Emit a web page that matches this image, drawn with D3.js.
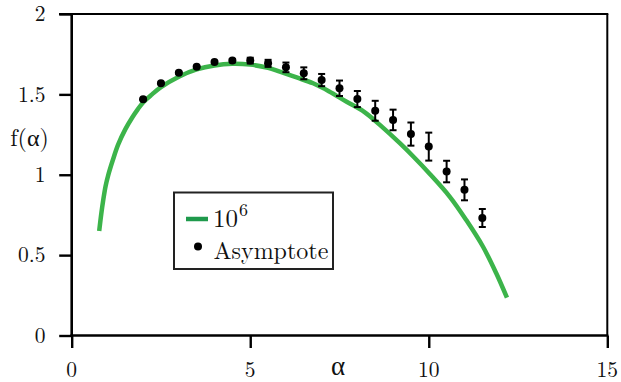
<!DOCTYPE html>
<html><head><meta charset="utf-8">
<script src="https://cdn.jsdelivr.net/npm/d3@7"></script>
<style>body{margin:0;background:#fff}svg{display:block}</style>
</head><body><div id="chart"></div>
<script>
// Curve data (10^6)
const curveAlpha = [0.77,0.83,0.885,0.95,1.02,1.15,1.3,1.5,1.7,1.85,2.0,2.25,2.5,3.0,3.5,4.0,4.5,5.0,5.5,5.83,6.3,6.76,7.2,7.7,8.2,8.63,9.19,9.56,10.03,10.59,11.05,11.52,11.89,12.19];
const curveF     = [0.65,0.76,0.845,0.93,0.995,1.09,1.187,1.282,1.358,1.407,1.45,1.50,1.545,1.61,1.655,1.68,1.69,1.685,1.665,1.641,1.605,1.569,1.52,1.454,1.39,1.31,1.196,1.115,1.005,0.863,0.718,0.552,0.387,0.235];
// Asymptote points with error bars
const asymAlpha = [2.0,2.5,3.0,3.5,4.0,4.5,5.0,5.5,6.0,6.5,7.0,7.5,8.0,8.5,9.0,9.5,10.0,10.5,11.0,11.5];
const asymF     = [1.469,1.569,1.635,1.672,1.701,1.71,1.71,1.693,1.668,1.631,1.589,1.538,1.471,1.398,1.341,1.253,1.175,1.02,0.906,0.731];
const asymErr   = [0.004,0.004,0.005,0.005,0.006,0.01,0.018,0.022,0.03,0.037,0.038,0.048,0.05,0.062,0.064,0.072,0.087,0.067,0.065,0.056];
// Ticks
const xTicks = [0,5,10,15];
const xTickLabels = ["0","5","10","15"];
const yTicks = [0,0.5,1,1.5,2];
const yTickLabels = ["0","0.5","1","1.5","2"];
const legendLabels = ["10","Asymptote"];

const FONT = "'Latin Modern Roman'";
const W = 621, H = 382;
const svg = d3.select("#chart").append("svg").attr("width",W).attr("height",H);
const x = d3.scaleLinear().domain([0,15]).range([71.7,607.3]);
const y = d3.scaleLinear().domain([0,2]).range([335.5,14]);
const txt = (sel)=>sel.append("text").style("font-family",FONT).attr("fill","#111");

// frame (top/right)
svg.append("line").attr("x1",59).attr("x2",x(15)+1).attr("y1",y(2)).attr("y2",y(2)).attr("stroke","#000").attr("stroke-width",2);
svg.append("line").attr("x1",x(15)).attr("x2",x(15)).attr("y1",y(2)).attr("y2",y(0)).attr("stroke","#000").attr("stroke-width",2);

// axes
const xAxis = svg.append("g").attr("transform",`translate(0,${y(0)})`)
  .call(d3.axisBottom(x).tickValues(xTicks).tickSize(12.5).tickSizeOuter(0).tickFormat(""));
const yAxis = svg.append("g").attr("transform",`translate(${x(0)},0)`)
  .call(d3.axisLeft(y).tickValues(yTicks).tickSize(12.5).tickSizeOuter(0).tickFormat(""));
[xAxis,yAxis].forEach(a=>{
  a.select(".domain").attr("stroke","#000").attr("stroke-width",2.6);
  a.selectAll(".tick line").attr("stroke","#000").attr("stroke-width",2.4);
});
xAxis.select(".domain").attr("d",`M${x(0)-1.3},0H${x(15)+1}`);
yAxis.select(".domain").attr("d",`M0,${y(0)+1.3}V${y(2)}`);

// tick labels
xTicks.forEach((t,i)=>{
  txt(svg).attr("x",x(t)).attr("y",376.5).attr("text-anchor","middle").attr("font-size",21.5).text(xTickLabels[i]);
});
yTicks.forEach((t,i)=>{
  txt(svg).attr("x",45.5).attr("y",y(t)+7.2).attr("text-anchor","end").attr("font-size",21.5).text(yTickLabels[i]);
});
// axis titles
txt(svg).attr("x",338).attr("y",375).attr("text-anchor","middle").attr("font-size",27).text("α");
txt(svg).attr("x",29.5).attr("y",146).attr("text-anchor","middle").attr("font-size",24).text("f(α)");

// curve
const curveData = curveAlpha.map((a,i)=>[a,curveF[i]]);
svg.append("path").datum(curveData)
  .attr("d",d3.line().x(d=>x(d[0])).y(d=>y(d[1])).curve(d3.curveCatmullRom.alpha(0.5)))
  .attr("fill","none").attr("stroke","#3cb44a").attr("stroke-width",4.5);

// points + error bars
const pts = asymAlpha.map((a,i)=>({a,f:asymF[i],e:asymErr[i]}));
const g = svg.append("g");
pts.forEach(p=>{
  const cx=x(p.a), y1=y(p.f+p.e), y2=y(p.f-p.e);
  g.append("line").attr("x1",cx).attr("x2",cx).attr("y1",y1).attr("y2",y2).attr("stroke","#000").attr("stroke-width",2);
  [y1,y2].forEach(yy=>g.append("line").attr("x1",cx-3.5).attr("x2",cx+3.5).attr("y1",yy).attr("y2",yy).attr("stroke","#000").attr("stroke-width",2));
  g.append("circle").attr("cx",cx).attr("cy",y(p.f)).attr("r",4).attr("fill","#000");
});

// legend
svg.append("rect").attr("x",174).attr("y",192.5).attr("width",159).attr("height",76.5)
  .attr("fill","#fff").attr("stroke","#222").attr("stroke-width",2);
svg.append("line").attr("x1",186).attr("x2",208).attr("y1",219).attr("y2",219).attr("stroke","#1f9a4c").attr("stroke-width",4.5);
const t1 = txt(svg).attr("x",213).attr("y",227).attr("font-size",25);
t1.append("tspan").text(legendLabels[0]);
t1.append("tspan").attr("dx",1).attr("dy",-11).attr("font-size",18).text("6");
svg.append("circle").attr("cx",198).attr("cy",246.5).attr("r",4).attr("fill","#000");
txt(svg).attr("x",213.5).attr("y",259).attr("font-size",24).text(legendLabels[1]);
</script></body></html>
